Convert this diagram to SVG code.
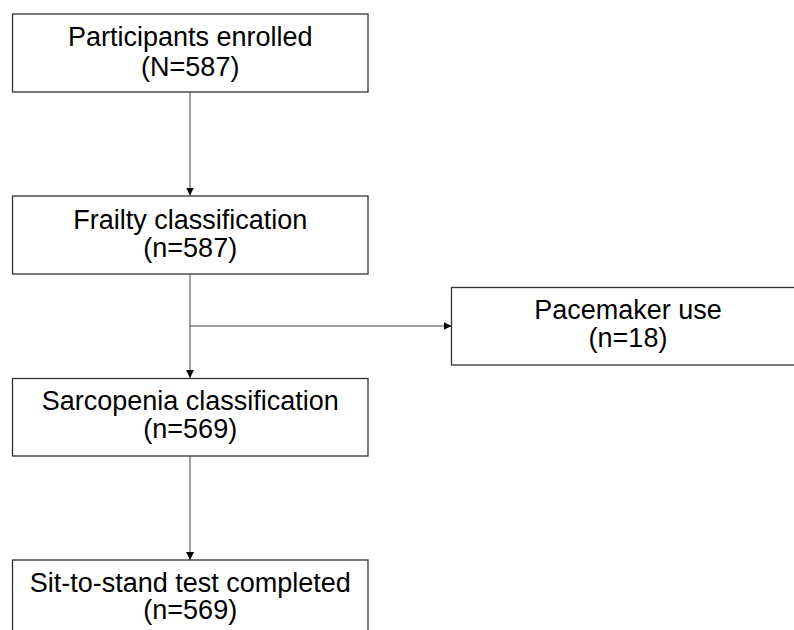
<svg xmlns="http://www.w3.org/2000/svg" width="794" height="630" viewBox="0 0 794 630">
<style>
.box{fill:#fff;stroke:#333;stroke-width:1.3}
.t{font-family:"Liberation Sans",Arial,sans-serif;font-size:27px;fill:#000;text-anchor:middle}
.c{fill:none;stroke:#444;stroke-width:1}
</style>
<defs>
<marker id="ah" markerWidth="8" markerHeight="8" viewBox="0 0 8 8" refX="8" refY="4" orient="auto" markerUnits="userSpaceOnUse">
<path d="M0,0 L8,4 L0,8 Z" fill="#000"/>
</marker>
</defs>
<rect width="794" height="630" fill="#fff"/>
<g id="connectors">
<line class="c" x1="190" y1="92" x2="190" y2="195.5" marker-end="url(#ah)"/>
<line class="c" x1="190" y1="274" x2="190" y2="378" marker-end="url(#ah)"/>
<line class="c" x1="190" y1="326" x2="451.5" y2="326" marker-end="url(#ah)"/>
<line class="c" x1="190" y1="456" x2="190" y2="560" marker-end="url(#ah)"/>
</g>
<g id="n1">
<rect class="box" x="12.5" y="14" width="355.5" height="78"/>
<text class="t" x="190.25" y="46">Participants enrolled</text>
<text class="t" x="190.25" y="76">(N=587)</text>
</g>
<g id="n2">
<rect class="box" x="12.5" y="196" width="355.5" height="78"/>
<text class="t" x="190.25" y="229">Frailty classification</text>
<text class="t" x="190.25" y="257">(n=587)</text>
</g>
<g id="n3">
<rect class="box" x="451.5" y="287.5" width="355" height="77.5"/>
<text class="t" x="628" y="318.5">Pacemaker use</text>
<text class="t" x="628" y="346.5">(n=18)</text>
</g>
<g id="n4">
<rect class="box" x="12.5" y="378.5" width="355.5" height="77.5"/>
<text class="t" x="190.25" y="410">Sarcopenia classification</text>
<text class="t" x="190.25" y="437.5">(n=569)</text>
</g>
<g id="n5">
<rect class="box" x="12.5" y="560" width="355.5" height="78"/>
<text class="t" x="190.25" y="591.5">Sit-to-stand test completed</text>
<text class="t" x="190.25" y="618.5">(n=569)</text>
</g>
</svg>
